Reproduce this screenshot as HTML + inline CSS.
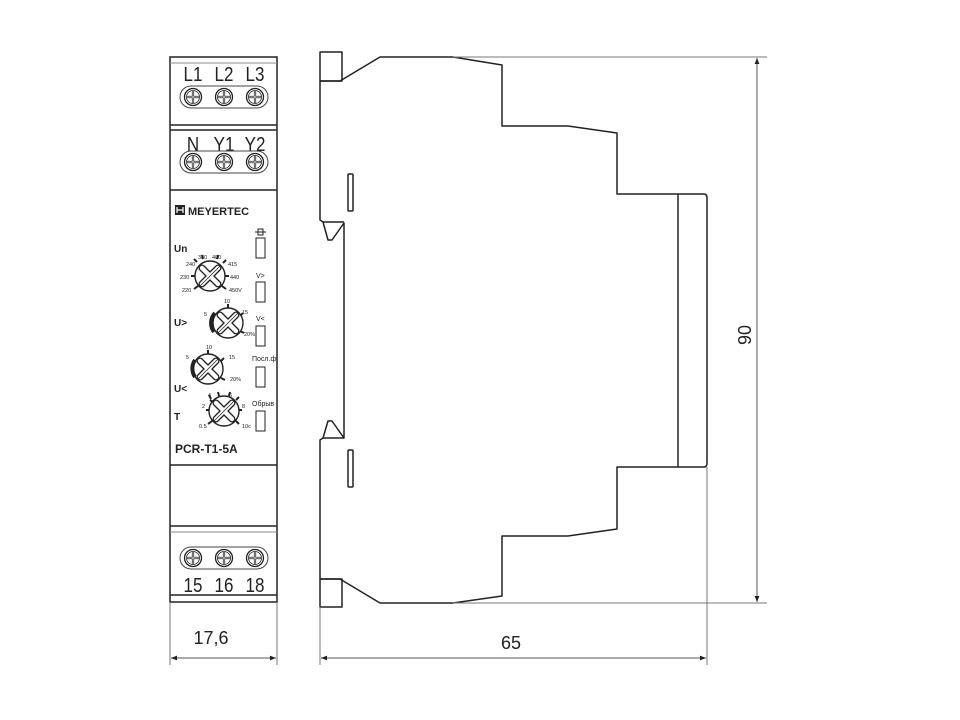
<!DOCTYPE html>
<html><head><meta charset="utf-8"><style>
html,body{margin:0;padding:0;background:#fff;width:960px;height:720px;overflow:hidden}
svg{display:block}
text{font-family:"Liberation Sans",sans-serif}
</style></head><body>
<svg width="960" height="720" viewBox="0 0 960 720" xmlns="http://www.w3.org/2000/svg">
<defs>
<g id="scr"><circle r="8.5" fill="#fff" stroke="#222" stroke-width="1.3"/><circle r="6.5" fill="none" stroke="#222" stroke-width="0.8"/><path d="M-6 0H6M0 -6V6" stroke="#222" stroke-width="2.2"/><path d="M-6 0H6M0 -6V6" stroke="#fff" stroke-width="0.7"/></g>
<g id="knob"><circle r="15" fill="#fff" stroke="#222" stroke-width="1.4"/><path d="M-8 -8L8 8M8 -8L-8 8" stroke="#222" stroke-width="7" stroke-linecap="round"/><path d="M-8 -8L8 8M8 -8L-8 8" stroke="#fff" stroke-width="4.4" stroke-linecap="round"/><path d="M-11 11L11 -11" stroke="#222" stroke-width="0.8"/></g>
<marker id="ar" viewBox="0 0 10 10" refX="10" refY="5" markerWidth="12" markerHeight="6" orient="auto-start-reverse" markerUnits="userSpaceOnUse"><path d="M0 1L10 5L0 9z" fill="#222"/></marker>
</defs>

<!-- front view -->
<g fill="none" stroke="#222" stroke-width="1.5">
<rect x="170" y="57" width="107" height="545"/>
<line x1="170" y1="125" x2="277" y2="125"/>
<line x1="170" y1="130" x2="277" y2="130"/>
<line x1="170" y1="190" x2="277" y2="190"/>
<line x1="170" y1="465" x2="277" y2="465"/>
<line x1="170" y1="526" x2="277" y2="526"/>
<line x1="170" y1="595" x2="277" y2="595"/>
</g>
<g stroke="#888" stroke-width="1"><line x1="170" y1="63" x2="277" y2="63"/><line x1="170" y1="532" x2="277" y2="532"/></g>
<g font-size="20" fill="#222" text-anchor="middle">
<text transform="translate(193 81) scale(0.85 1)">L1</text><text transform="translate(224 81) scale(0.85 1)">L2</text><text transform="translate(255 81) scale(0.85 1)">L3</text>
<text transform="translate(193 151) scale(0.85 1)">N</text><text transform="translate(224 151) scale(0.85 1)">Y1</text><text transform="translate(255 151) scale(0.85 1)">Y2</text>
<text transform="translate(193 592) scale(0.85 1)">15</text><text transform="translate(224 592) scale(0.85 1)">16</text><text transform="translate(255 592) scale(0.85 1)">18</text>
</g>
<g fill="none" stroke="#444" stroke-width="1">
<rect x="180" y="86" width="88" height="22" rx="11"/>
<rect x="180" y="151" width="88" height="22" rx="11"/>
<rect x="180" y="547" width="88" height="22" rx="11"/>
</g>
<use href="#scr" x="193" y="97"/><use href="#scr" x="224" y="97"/><use href="#scr" x="255" y="97"/>
<use href="#scr" x="193" y="162"/><use href="#scr" x="224" y="162"/><use href="#scr" x="255" y="162"/>
<use href="#scr" x="193" y="558"/><use href="#scr" x="224" y="558"/><use href="#scr" x="255" y="558"/>

<!-- panel -->
<rect x="175" y="205" width="10" height="10" fill="#222"/>
<path d="M177 207v6M183 207v6M177 210h6" stroke="#fff" stroke-width="1.2"/>
<text x="188" y="215" font-size="11" font-weight="bold" fill="#222">MEYERTEC</text>
<g font-size="10" font-weight="bold" fill="#222"><text x="174" y="252">Un</text><text x="174" y="326">U&gt;</text><text x="174" y="392">U&lt;</text><text x="174" y="420">T</text></g>
<text x="175" y="453" font-size="12" font-weight="bold" fill="#222">PCR-T1-5A</text>
<g fill="#fff" stroke="#222" stroke-width="1"><rect x="256" y="238" width="9" height="20"/><rect x="256" y="282" width="9" height="20"/><rect x="256" y="326" width="9" height="20"/><rect x="256" y="367" width="9" height="20"/><rect x="256" y="411" width="9" height="20"/></g>
<path d="M255 232h11M258 229h5v6h-5z" stroke="#222" fill="none" stroke-width="1"/>
<g font-size="7" fill="#222"><text x="256" y="278">V&gt;</text><text x="256" y="321">V&lt;</text><text x="252" y="361">Посл.ф</text><text x="252" y="406">Обрыв</text></g>
<g stroke="#222" stroke-width="2">
<path d="M197 262l-3-3M203 259l-1-4M217 259l1-4M223 263l3-3M196 276h-5M224 276h5M198 286l-4 3M222 286l4 3"/>
<path d="M228 308v-4M240 316l3-3M240 331l4 2"/>
<path d="M208 354v-4M221 361l3-3M221 378l4 2"/>
<path d="M211 399l-2-4M219 396l-1-4M229 396l1-4M236 400l3-3M238 410h4M236 421l3 3M210 410h-4M212 421l-4 3M213 402l-3-2"/>
</g>
<use href="#knob" x="210" y="276"/>
<use href="#knob" x="228" y="323"/>
<use href="#knob" x="208" y="369"/>
<use href="#knob" x="224" y="411"/>
<path d="M215 313a15 15 0 0 0 -1 19" stroke="#222" stroke-width="4" fill="none"/>
<path d="M195 360a15 15 0 0 0 0 17" stroke="#222" stroke-width="4" fill="none"/>
<g font-size="5.5" fill="#222"><text x="198" y="259">380</text><text x="212" y="259">400</text><text x="186" y="266">240</text><text x="228" y="266">415</text><text x="180" y="279">230</text><text x="230" y="279">440</text><text x="182" y="292">220</text><text x="229" y="292">450V</text>
<text x="224" y="303">10</text><text x="242" y="314">15</text><text x="244" y="336">20%</text><text x="204" y="316">5</text>
<text x="206" y="349">10</text><text x="229" y="359">15</text><text x="230" y="381">20%</text><text x="186" y="359">5</text>
<text x="208" y="397">4</text><text x="229" y="397">6</text><text x="202" y="408">2</text><text x="242" y="408">8</text><text x="199" y="428">0.5</text><text x="242" y="428">10c</text></g>

<!-- side view -->
<g fill="none" stroke="#222" stroke-width="1.5" stroke-linejoin="round">
<rect x="320" y="52" width="22" height="29"/>
<rect x="320" y="579" width="22" height="28"/>
<path d="M320 81V220L323 222L328 240H332L344 223V438L332 421H328L323 438L320 440V579H340L380 603H453L502 596V536H568L617 529V467H704Q707 467 707 463V198Q707 194 704 194H617V133L568 126H502V65L453 57H380L340 81H320"/>
<line x1="678" y1="194" x2="678" y2="467"/>
<path d="M323 222H344M323 438H344"/>
<rect x="348" y="174" width="5" height="37" rx="1"/>
<rect x="348" y="450" width="5" height="37" rx="1"/>
</g>

<!-- dimensions -->
<g stroke="#777" stroke-width="1" fill="none">
<line x1="453" y1="57" x2="767" y2="57"/>
<line x1="453" y1="603" x2="767" y2="603"/>
<line x1="320" y1="607" x2="320" y2="665"/>
<line x1="707" y1="467" x2="707" y2="665"/>
<line x1="170" y1="602" x2="170" y2="665"/>
<line x1="277" y1="602" x2="277" y2="665"/>
</g>
<g stroke="#555" stroke-width="1">
<line x1="757" y1="58" x2="757" y2="602" marker-start="url(#ar)" marker-end="url(#ar)"/>
<line x1="321" y1="658" x2="706" y2="658" marker-start="url(#ar)" marker-end="url(#ar)"/>
<line x1="171" y1="658" x2="276" y2="658" marker-start="url(#ar)" marker-end="url(#ar)"/>
</g>
<g font-size="18" fill="#222" text-anchor="middle">
<text x="211" y="644">17,6</text>
<text x="511" y="649">65</text>
<text x="0" y="0" transform="translate(751 335) rotate(-90)">90</text>
</g>
</svg>
</body></html>
